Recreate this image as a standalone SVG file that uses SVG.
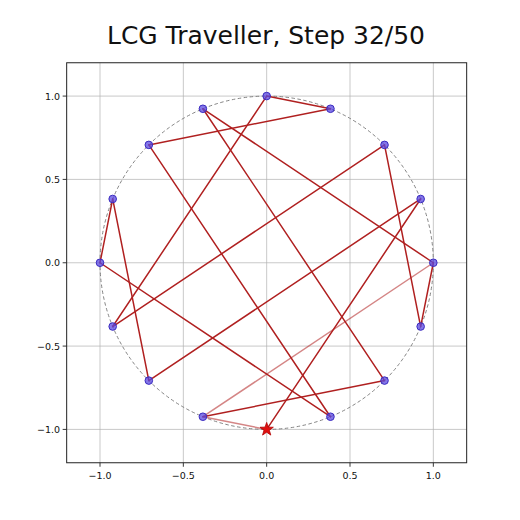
<svg xmlns="http://www.w3.org/2000/svg" width="520" height="520" viewBox="0 0 520 520">
<style>
.grid{stroke:#b0b0b0;stroke-width:0.9;opacity:0.75}
.frame{fill:none;stroke:#222;stroke-width:1}
.tick{stroke:#222;stroke-width:0.9}
.lbl{font-family:"DejaVu Sans",sans-serif;font-size:9.5px;fill:#111}
.title{font-family:"DejaVu Sans",sans-serif;font-size:25px;fill:#111}
.edge{stroke:#b02020;stroke-width:1.5;fill:none;stroke-linecap:round}
.old{opacity:0.55}
.pt{fill:#5a48e0;fill-opacity:0.75;stroke:#3a2ac0;stroke-width:1}
</style>
<rect x="0" y="0" width="520" height="520" fill="#fff"/>
<text class="title" x="266" y="44" text-anchor="middle" textLength="318" lengthAdjust="spacingAndGlyphs">LCG Traveller, Step 32/50</text>
<g id="grid">
<line class="grid" x1="100" y1="62.75" x2="100" y2="462.75"/>
<line class="grid" x1="183.33" y1="62.75" x2="183.33" y2="462.75"/>
<line class="grid" x1="266.67" y1="62.75" x2="266.67" y2="462.75"/>
<line class="grid" x1="350" y1="62.75" x2="350" y2="462.75"/>
<line class="grid" x1="433.33" y1="62.75" x2="433.33" y2="462.75"/>
<line class="grid" x1="66.67" y1="96.08" x2="466.67" y2="96.08"/>
<line class="grid" x1="66.67" y1="179.42" x2="466.67" y2="179.42"/>
<line class="grid" x1="66.67" y1="262.75" x2="466.67" y2="262.75"/>
<line class="grid" x1="66.67" y1="346.08" x2="466.67" y2="346.08"/>
<line class="grid" x1="66.67" y1="429.42" x2="466.67" y2="429.42"/>
</g>
<g id="axes">
<rect class="frame" x="66.67" y="62.75" width="400" height="400"/>
<line class="tick" x1="100" y1="462.75" x2="100" y2="466.75"/>
<line class="tick" x1="183.33" y1="462.75" x2="183.33" y2="466.75"/>
<line class="tick" x1="266.67" y1="462.75" x2="266.67" y2="466.75"/>
<line class="tick" x1="350" y1="462.75" x2="350" y2="466.75"/>
<line class="tick" x1="433.33" y1="462.75" x2="433.33" y2="466.75"/>
<line class="tick" x1="62.67" y1="96.08" x2="66.67" y2="96.08"/>
<line class="tick" x1="62.67" y1="179.42" x2="66.67" y2="179.42"/>
<line class="tick" x1="62.67" y1="262.75" x2="66.67" y2="262.75"/>
<line class="tick" x1="62.67" y1="346.08" x2="66.67" y2="346.08"/>
<line class="tick" x1="62.67" y1="429.42" x2="66.67" y2="429.42"/>
<text class="lbl" x="100" y="479" text-anchor="middle">−1.0</text>
<text class="lbl" x="183.33" y="479" text-anchor="middle">−0.5</text>
<text class="lbl" x="266.67" y="479" text-anchor="middle">0.0</text>
<text class="lbl" x="350" y="479" text-anchor="middle">0.5</text>
<text class="lbl" x="433.33" y="479" text-anchor="middle">1.0</text>
<text class="lbl" x="60" y="99.5" text-anchor="end">1.0</text>
<text class="lbl" x="60" y="182.8" text-anchor="end">0.5</text>
<text class="lbl" x="60" y="266.1" text-anchor="end">0.0</text>
<text class="lbl" x="60" y="349.5" text-anchor="end">−0.5</text>
<text class="lbl" x="60" y="432.8" text-anchor="end">−1.0</text>
</g>
<circle id="ring" cx="266.67" cy="262.75" r="166.67" fill="none" stroke="#777" stroke-width="0.9" stroke-dasharray="3.5,2.5"/>
<g id="connectors">
<line class="edge old" x1="433.34" y1="262.75" x2="202.89" y2="416.73"/>
<line class="edge old" x1="266.67" y1="429.42" x2="202.89" y2="416.73"/>
<line class="edge" x1="202.89" y1="416.73" x2="384.52" y2="380.60"/>
<line class="edge" x1="384.52" y1="380.60" x2="202.89" y2="108.77"/>
<line class="edge" x1="202.89" y1="108.77" x2="433.34" y2="262.75"/>
<line class="edge" x1="433.34" y1="262.75" x2="420.65" y2="326.53"/>
<line class="edge" x1="420.65" y1="326.53" x2="384.52" y2="144.90"/>
<line class="edge" x1="384.52" y1="144.90" x2="112.69" y2="326.53"/>
<line class="edge" x1="112.69" y1="326.53" x2="266.67" y2="96.08"/>
<line class="edge" x1="266.67" y1="96.08" x2="330.45" y2="108.77"/>
<line class="edge" x1="330.45" y1="108.77" x2="148.82" y2="144.90"/>
<line class="edge" x1="148.82" y1="144.90" x2="330.45" y2="416.73"/>
<line class="edge" x1="330.45" y1="416.73" x2="100.00" y2="262.75"/>
<line class="edge" x1="100.00" y1="262.75" x2="112.69" y2="198.97"/>
<line class="edge" x1="112.69" y1="198.97" x2="148.82" y2="380.60"/>
<line class="edge" x1="148.82" y1="380.60" x2="420.65" y2="198.97"/>
<line class="edge" x1="420.65" y1="198.97" x2="266.67" y2="429.42"/>
</g>
<g id="p0"><circle class="pt" cx="433.34" cy="262.75" r="3.8"/></g>
<g id="p1"><circle class="pt" cx="420.65" cy="198.97" r="3.8"/></g>
<g id="p2"><circle class="pt" cx="384.52" cy="144.90" r="3.8"/></g>
<g id="p3"><circle class="pt" cx="330.45" cy="108.77" r="3.8"/></g>
<g id="p4"><circle class="pt" cx="266.67" cy="96.08" r="3.8"/></g>
<g id="p5"><circle class="pt" cx="202.89" cy="108.77" r="3.8"/></g>
<g id="p6"><circle class="pt" cx="148.82" cy="144.90" r="3.8"/></g>
<g id="p7"><circle class="pt" cx="112.69" cy="198.97" r="3.8"/></g>
<g id="p8"><circle class="pt" cx="100.00" cy="262.75" r="3.8"/></g>
<g id="p9"><circle class="pt" cx="112.69" cy="326.53" r="3.8"/></g>
<g id="p10"><circle class="pt" cx="148.82" cy="380.60" r="3.8"/></g>
<g id="p11"><circle class="pt" cx="202.89" cy="416.73" r="3.8"/></g>
<g id="p13"><circle class="pt" cx="330.45" cy="416.73" r="3.8"/></g>
<g id="p14"><circle class="pt" cx="384.52" cy="380.60" r="3.8"/></g>
<g id="p15"><circle class="pt" cx="420.65" cy="326.53" r="3.8"/></g>
<g id="current" transform="translate(266.67,429.42)">
<polygon points="0,-7 1.646,-2.265 6.657,-2.163 2.663,0.865 4.114,5.663 0,2.8 -4.114,5.663 -2.663,0.865 -6.657,-2.163 -1.646,-2.265" fill="#e01010" stroke="#b00000" stroke-width="0.8"/>
</g>
</svg>
